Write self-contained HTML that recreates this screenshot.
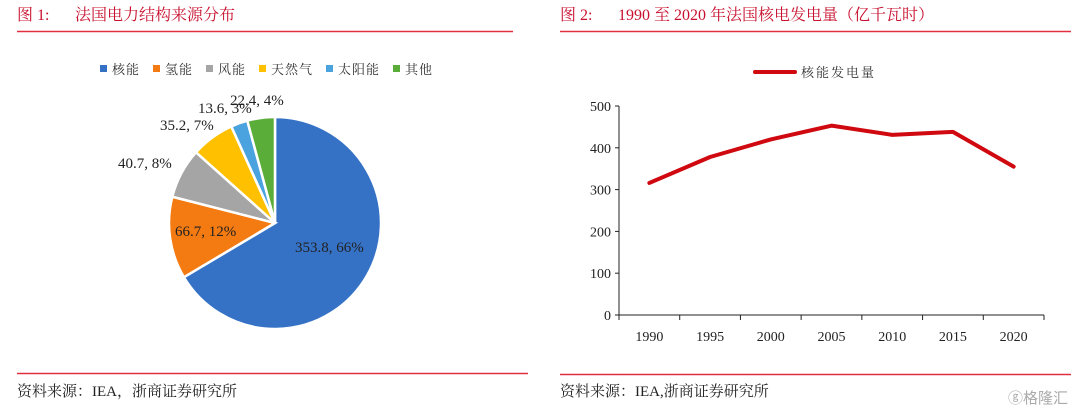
<!DOCTYPE html>
<html><head><meta charset="utf-8">
<style>
body{margin:0;width:1080px;height:412px;background:#fff;overflow:hidden;font-family:"Liberation Serif","Noto Serif CJK SC",serif;}
svg{position:absolute;left:0;top:0}
</style></head>
<body>
<svg width="1080" height="412" xmlns="http://www.w3.org/2000/svg">
  <g>
    <text x="17" y="20" font-size="16" fill="#c8102e">图 1:<tspan x="75">法国电力结构来源分布</tspan></text>
    <line x1="17" y1="31.5" x2="513" y2="31.5" stroke="#e03040" stroke-width="1.5"/>
  </g>
  <g>
    <text x="560" y="20" font-size="16" fill="#c8102e">图 2:<tspan x="618">1990 至 2020 年法国核电发电量（亿千瓦时）</tspan></text>
    <line x1="560" y1="31.5" x2="1071" y2="31.5" stroke="#e03040" stroke-width="1.5"/>
  </g>
  <g id="pie-legend"></g>
  <g id="pie"></g>
  <g id="line"></g>
  <g>
    <line x1="17" y1="373.5" x2="528" y2="373.5" stroke="#e03040" stroke-width="1.5"/>
    <text x="17" y="396" font-size="15" fill="#222">资料来源：IEA，浙商证券研究所</text>
  </g>
  <g>
    <line x1="560" y1="374.5" x2="1071" y2="374.5" stroke="#e03040" stroke-width="1.5"/>
    <text x="560" y="396" font-size="15" fill="#222">资料来源：IEA,浙商证券研究所</text>
    <text x="1008" y="403" font-size="15" fill="#aaa" font-family="Liberation Sans, Noto Sans CJK SC, sans-serif">ⓖ格隆汇</text>
  </g>
</svg>
<script>
const pieCats=["核能","氢能","风能","天然气","太阳能","其他"];
const pieVals=[353.8,66.7,40.7,35.2,13.6,22.4];
const piePcts=["66%","12%","8%","7%","3%","4%"];
const pieColors=["#3572c6","#f47a12","#a5a5a5","#ffc000","#4aa3df","#5bad3a"];
const years=["1990","1995","2000","2005","2010","2015","2020"];
const nuclearGen=[316,378,420,453,431,438,355];
const yTicks=[0,100,200,300,400,500];

const NS="http://www.w3.org/2000/svg";
function mk(tag,attrs,parent){const e=document.createElementNS(NS,tag);for(const k in attrs)e.setAttribute(k,attrs[k]);parent.appendChild(e);return e;}

const lg=document.getElementById('pie-legend');
let lx=100;
pieCats.forEach((c,i)=>{
  const r=mk('rect',{x:lx,y:65,width:7,height:7,fill:pieColors[i]},lg);
  
  
  const t=mk('text',{x:lx+12,y:74,'font-size':13,fill:'#333','letter-spacing':'1'},lg);
  t.textContent=c;
  
  
  lx+=25+c.length*14;
});

const pg=document.getElementById('pie');
const cx=275,cy=223,R=106;
const total=pieVals.reduce((a,b)=>a+b,0);
let ang=0;
const labelPos=[[295,252],[175,236],[118,168],[160,130],[198,113],[230,105]];
pieVals.forEach((v,i)=>{
  const a0=ang,a1=ang+v/total*2*Math.PI;ang=a1;
  const x0=cx+R*Math.sin(a0),y0=cy-R*Math.cos(a0),x1=cx+R*Math.sin(a1),y1=cy-R*Math.cos(a1);
  const large=(a1-a0)>Math.PI?1:0;
  const p=mk('path',{d:`M${cx},${cy}L${x0},${y0}A${R},${R} 0 ${large} 1 ${x1},${y1}Z`,fill:pieColors[i],stroke:'#fff','stroke-width':2.5},pg);
  
  
  const t=mk('text',{x:labelPos[i][0],y:labelPos[i][1],'font-size':15,fill:'#222'},pg);
  t.textContent=v+", "+piePcts[i];
  
  
});

const g=document.getElementById('line');
const X0=619,X1=1044,Y0=315,Y500=106;
const bw=(X1-X0)/years.length;
const xs=i=>X0+bw*(i+0.5);
const ys=v=>Y0-(v/500)*(Y0-Y500);
const ax=mk('line',{x1:X0,y1:Y500,x2:X0,y2:Y0,stroke:'#222','stroke-width':1},g);

const bx=mk('line',{x1:X0,y1:Y0,x2:X1,y2:Y0,stroke:'#222','stroke-width':1},g);

yTicks.forEach(v=>{
  mk('line',{x1:X0-4,y1:ys(v),x2:X0,y2:ys(v),stroke:'#222'},g);
  const t=mk('text',{x:X0-8,y:ys(v)+5,'font-size':14,fill:'#222','text-anchor':'end'},g);
  t.textContent=v;
  
  
});
for(let i=0;i<=years.length;i++)mk('line',{x1:X0+bw*i,y1:Y0,x2:X0+bw*i,y2:Y0+5,stroke:'#222'},g);
years.forEach((y,i)=>{
  const t=mk('text',{x:xs(i),y:Y0+26,'font-size':14,fill:'#222','text-anchor':'middle'},g);
  t.textContent=y;
  
  
});
const pl=mk('polyline',{points:nuclearGen.map((v,i)=>xs(i)+','+ys(v)).join(' '),fill:'none',stroke:'#d0080f','stroke-width':4,'stroke-linejoin':'round','stroke-linecap':'round'},g);


const ll=mk('line',{x1:755,y1:72,x2:795,y2:72,stroke:'#d0080f','stroke-width':4,'stroke-linecap':'round'},g);

const lt=mk('text',{x:801,y:77,'font-size':13,fill:'#333','letter-spacing':'2'},g);
lt.textContent='核能发电量';

</script>
</body></html>
